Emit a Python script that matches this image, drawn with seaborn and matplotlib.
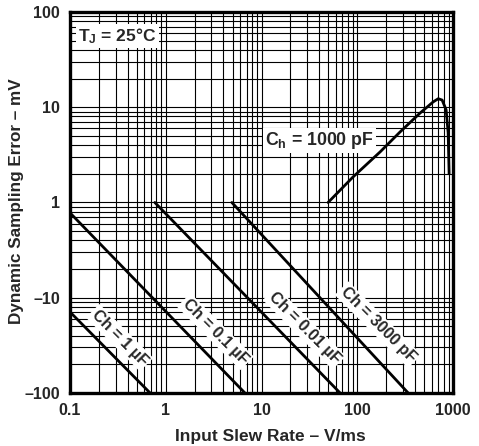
import matplotlib
matplotlib.use("Agg")
import matplotlib.pyplot as plt
import matplotlib.ticker as ticker
import pandas as pd
import seaborn as sns

# Curves (x in V/ms, y in mV on the log axis)
ch_1uf_x = [0.1, 0.686]
ch_1uf_y = [0.071, 0.01]
ch_01uf_x = [0.1, 6.7]
ch_01uf_y = [0.78, 0.01]
ch_001uf_x = [0.77, 66]
ch_001uf_y = [1.0, 0.01]
ch_3000pf_x = [4.9, 339]
ch_3000pf_y = [1.0, 0.01]
ch_1000pf_x = [49.5, 90, 173, 279, 452, 620, 700, 768, 845, 887, 908]
ch_1000pf_y = [1.0, 1.85, 3.4, 5.5, 8.7, 11.4, 12.3, 11.9, 9.4, 5.4, 2.0]

x_ticks = [0.1, 1, 10, 100, 1000]
x_tick_labels = ["0.1", "1", "10", "100", "1000"]
y_ticks = [100, 10, 1, 0.1, 0.01]
y_tick_labels = ["100", "10", "1", "\u201310", "\u2013100"]

curve_labels = ["Ch = 1 \u00b5F", "Ch = 0.1 \u00b5F", "Ch = 0.01 \u00b5F", "Ch = 3000 pF"]
curve_label_pos = [(0.33, 0.038), (3.3, 0.044), (28, 0.048), (165, 0.052)]


if __name__ == "__main__":

    sns.set_style("white")
    plt.rcParams["font.family"] = ["Liberation Sans", "DejaVu Sans"]
    plt.rcParams["font.weight"] = "bold"
    plt.rcParams["mathtext.fontset"] = "custom"
    plt.rcParams["mathtext.rm"] = "Liberation Sans:bold"
    plt.rcParams["mathtext.it"] = "Liberation Sans:bold"

    series = [
        ("1uF", ch_1uf_x, ch_1uf_y),
        ("0.1uF", ch_01uf_x, ch_01uf_y),
        ("0.01uF", ch_001uf_x, ch_001uf_y),
        ("3000pF", ch_3000pf_x, ch_3000pf_y),
        ("1000pF", ch_1000pf_x, ch_1000pf_y),
    ]
    df = pd.concat(
        [pd.DataFrame({"rate": xs, "error": ys, "ch": name}) for name, xs, ys in series],
        ignore_index=True,
    )

    fig = plt.figure(figsize=(4.79, 4.46), dpi=100)
    ax = fig.add_axes([0.146, 0.119, 0.8, 0.854])

    sns.lineplot(
        data=df,
        x="rate",
        y="error",
        units="ch",
        estimator=None,
        sort=False,
        color="black",
        linewidth=2.0,
        ax=ax,
        zorder=5,
    )

    ax.set_xscale("log")
    ax.set_yscale("log")
    ax.set_xlim(0.1, 1000)
    ax.set_ylim(0.01, 100)

    ax.set_xticks(x_ticks)
    ax.set_xticklabels(x_tick_labels)
    ax.set_yticks(y_ticks)
    ax.set_yticklabels(y_tick_labels)
    ax.xaxis.set_minor_locator(ticker.LogLocator(base=10, subs=range(2, 10)))
    ax.yaxis.set_minor_locator(ticker.LogLocator(base=10, subs=range(2, 10)))
    ax.xaxis.set_minor_formatter(ticker.NullFormatter())
    ax.yaxis.set_minor_formatter(ticker.NullFormatter())
    ax.tick_params(which="both", length=0, labelsize=11.5, pad=7)

    ax.grid(which="both", color="black", linewidth=0.8)
    ax.set_axisbelow(True)
    for spine in ax.spines.values():
        spine.set_linewidth(2.4)
        spine.set_color("black")

    ax.set_xlabel("Input Slew Rate \u2013 V/ms", fontsize=12.5, fontweight="bold")
    ax.set_ylabel("Dynamic Sampling Error \u2013 mV", fontsize=12.3, fontweight="bold")
    ax.xaxis.set_label_coords(0.522, -0.095)
    ax.yaxis.set_label_coords(-0.12, 0.504)

    box = dict(facecolor="white", edgecolor="none", pad=1.5)
    ax.text(0.022, 0.937, "$\\mathrm{T_J}$ = 25\u00b0C",
            transform=ax.transAxes, fontsize=12.5, fontweight="bold",
            ha="left", va="center", bbox=box, zorder=6)
    ax.text(40, 4.5, "$\\mathrm{C_h}$ = 1000 pF", fontsize=12.8, fontweight="bold",
            ha="center", va="center", bbox=box, zorder=6)
    for label, (lx, ly) in zip(curve_labels, curve_label_pos):
        ax.text(lx, ly, label, fontsize=11.5, fontweight="bold", rotation=-45,
                rotation_mode="anchor", ha="center", va="center", bbox=box, zorder=6)

    fig.savefig("out.png", dpi=100)
